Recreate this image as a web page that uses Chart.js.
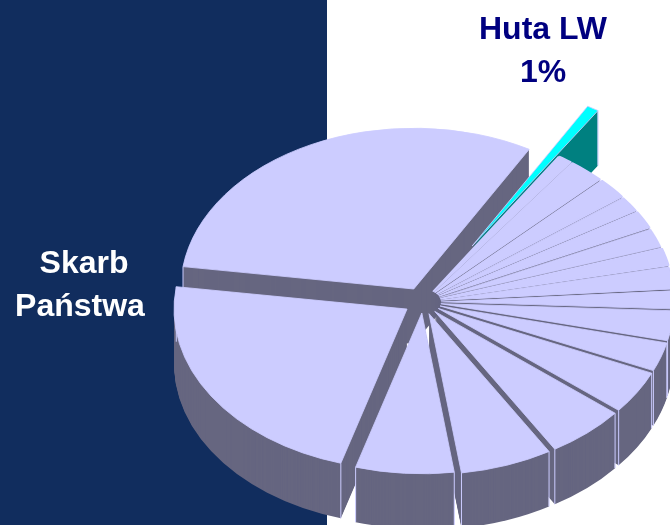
<!DOCTYPE html>
<html>
<head>
<meta charset="utf-8">
<style>html,body{margin:0;padding:0;background:#fff}canvas{display:block}</style>
<script src="https://cdn.jsdelivr.net/npm/chart.js@4/dist/chart.umd.js"></script>
</head>
<body>
<canvas id="c" width="670" height="525"></canvas>
<script>
const categories = ["Skarb Państwa","Huta LW","Udz. 3","Udz. 4","Udz. 5","Udz. 6","Udz. 7","Udz. 8","Udz. 9","Udz. 10","Udz. 11","Udz. 12","Udz. 13","Udz. 14","Udz. 15","Udz. 16","Udz. 17","Udz. 18"];
const shares = [31.03,0.83,0.97,2.5,2.11,1.56,1.78,1.92,1.75,2.22,1.81,3.0,2.89,4.33,5.47,6.39,6.81,22.64];
const explode = [21,95,18,18,18,18,18,18,18,18,18,18,18,18,18,18,16,19];
const edgeWidths = [1,1,2.2,2,2,1.3,1.8,0.8,2.6,1.2,1.1,1,1,1,1,1,1,1];
const topColors = categories.map((_, i) => i === 1 ? '#00FFFF' : '#CCCCFF');
const wallColors = categories.map((_, i) => i === 1 ? '#008080' : '#666680');

const view = {cx: 423, cy: 302, k: 0.69, depth: 55};

const pie3d = {
  id: 'pie3d',
  beforeDraw(chart) {
    const c = chart.ctx;
    c.save();
    c.fillStyle = '#FFFFFF';
    c.fillRect(0, 0, 670, 525);
    c.fillStyle = '#112D5E';
    c.fillRect(0, 0, 327, 525);
    c.restore();
  },
  beforeDatasetDraw() { return false; },
  afterDatasetsDraw(chart) {
    const c = chart.ctx;
    const arcs = chart.getDatasetMeta(0).data;
    const mid = a => (a.startAngle + a.endAngle) / 2;
    const order = arcs.map((a, i) => i).sort((p, q) => Math.sin(mid(arcs[p])) - Math.sin(mid(arcs[q])));
    order.forEach(i => {
      const a = arcs[i];
      const m = mid(a);
      const place = drop => {
        c.translate(view.cx, view.cy + drop);
        c.scale(1, view.k);
        c.translate(-a.x, -a.y);
        c.translate(Math.cos(m) * explode[i], Math.sin(m) * explode[i]);
      };
      const own = a.options;
      a.options = Object.assign({}, own, {backgroundColor: wallColors[i], borderWidth: 0, borderColor: wallColors[i]});
      for (let d = view.depth; d >= 1; d--) {
        c.save(); place(d); a.draw(c); c.restore();
      }
      a.options = own;
      // light vertical edges of the visible walls
      [a.startAngle, a.endAngle].forEach((t, which) => {
        const visible = i === 1 ? which === 1 : Math.sin(t) > -0.2;
        if (!visible) return;
        const px = view.cx + Math.cos(m) * explode[i] + Math.cos(t) * a.outerRadius;
        const py = view.cy + view.k * (Math.sin(m) * explode[i] + Math.sin(t) * a.outerRadius);
        c.save();
        c.strokeStyle = '#CCCCFF';
        c.lineWidth = 1;
        c.beginPath();
        c.moveTo(px, py);
        c.lineTo(px, py + view.depth);
        c.stroke();
        c.restore();
      });
      c.save(); place(0); a.draw(c); c.restore();
    });
    // captions
    c.save();
    c.textAlign = 'center';
    c.textBaseline = 'alphabetic';
    c.font = 'bold 32px "Liberation Sans", Arial, sans-serif';
    c.fillStyle = '#FFFFFF';
    c.fillText('Skarb', 84, 273);
    c.fillText('Państwa', 80, 316);
    c.fillStyle = '#000080';
    c.fillText('Huta LW', 543, 39);
    c.fillText('1%', 543, 82);
    c.restore();
  }
};

new Chart(document.getElementById('c'), {
  type: 'pie',
  data: {
    labels: categories,
    datasets: [{
      data: shares,
      backgroundColor: topColors,
      borderColor: '#CCCCFF',
      borderWidth: edgeWidths
    }]
  },
  options: {
    responsive: false,
    animation: false,
    rotation: 278,
    radius: 233,
    layout: {padding: 0},
    plugins: {legend: {display: false}, tooltip: {enabled: false}}
  },
  plugins: [pie3d]
});
</script>
</body>
</html>
